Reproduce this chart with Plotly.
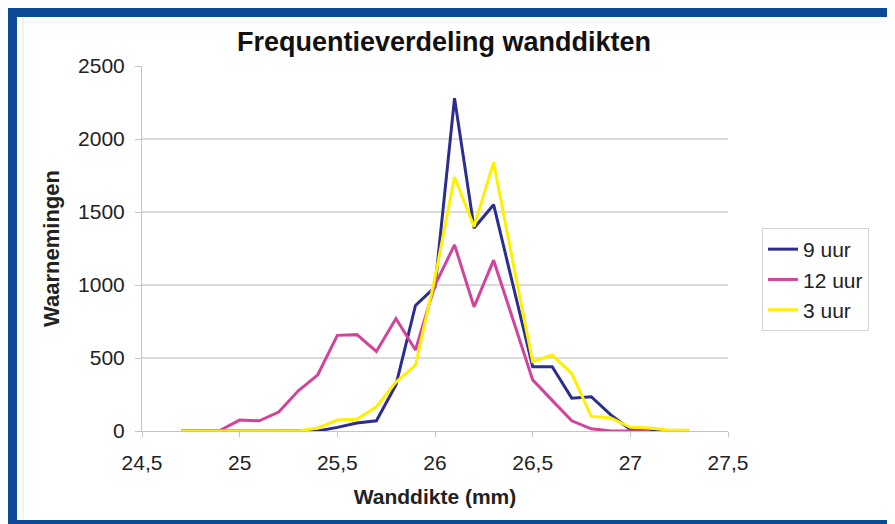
import plotly.graph_objects as go

# Wanddikte (mm) classes
wanddikte = [24.7, 24.8, 24.9, 25.0, 25.1, 25.2, 25.3, 25.4, 25.5, 25.6,
             25.7, 25.8, 25.9, 26.0, 26.1, 26.2, 26.3, 26.4, 26.5, 26.6,
             26.7, 26.8, 26.9, 27.0, 27.1, 27.2, 27.3]

# Waarnemingen per meetmoment
uur_9 = [0, 0, 0, 0, 0, 0, 0, 0, 25, 55,
         70, 315, 860, 985, 2280, 1390, 1550, 1000, 440, 440,
         225, 235, 110, 10, 0, 0, 0]
uur_12 = [0, 0, 5, 75, 70, 130, 275, 385, 655, 660,
          545, 770, 555, 1000, 1275, 850, 1170, 760, 350, 210,
          70, 15, 0, 0, 0, None, None]
uur_3 = [0, 0, 0, 0, 0, 0, 0, 20, 75, 80,
         165, 335, 450, 1050, 1740, 1400, 1840, 1150, 475, 520,
         395, 100, 90, 25, 20, 5, 5]

series_names = ["9 uur", "12 uur", "3 uur"]
series_colors = ["#2b2d8f", "#d2449c", "#fff000"]

# the page body adds an 8px margin, so the figure is shrunk and shifted by it
OFF = 8
W, H = 895 - OFF, 524 - OFF
# plot area in target pixels
L, R, T, B = 142 - OFF, 728 - OFF, 66 - OFF, 431 - OFF
FONT = "Arial, Liberation Sans, Helvetica, sans-serif"
FRAME = "#0b4a96"


def px(x):
    return (x - OFF - L) / (R - L)


def py(y):
    return (B - (y - OFF)) / (B - T)


def create_figure() -> go.Figure:
    fig = go.Figure()
    for name, values, color in zip(series_names, [uur_9, uur_12, uur_3], series_colors):
        fig.add_trace(go.Scatter(
            x=wanddikte, y=values, name=name, mode="lines",
            line=dict(color=color, width=3),
        ))

    # blue frame around the picture (open on the right)
    frame = [
        (8, 8, 895, 17),
        (8, 8, 17, 524),
        (8, 520, 895, 524),
    ]
    shapes = []
    for x0, y0, x1, y1 in frame:
        shapes.append(dict(
            type="rect", xref="paper", yref="paper",
            x0=px(x0), x1=px(x1), y0=py(y1), y1=py(y0),
            fillcolor=FRAME, line=dict(width=0), layer="above",
        ))
    shapes.append(dict(type="line", xref="paper", yref="paper",
                       x0=px(23), x1=px(23), y0=py(519), y1=py(18),
                       line=dict(color="#e4e4e4", width=1)))
    shapes.append(dict(type="line", xref="paper", yref="paper",
                       x0=px(23), x1=px(895), y0=py(22), y1=py(22),
                       line=dict(color="#eeeeee", width=1)))

    fig.update_layout(
        width=W, height=H,
        margin=dict(l=L, r=W - R, t=T, b=H - B),
        paper_bgcolor="white", plot_bgcolor="white",
        separators=",.",
        font=dict(family=FONT, size=21, color="#222222"),
        title=dict(
            text="<b>Frequentieverdeling wanddikten</b>",
            font=dict(size=27, color="#111111"),
            x=(444 - OFF) / W, xref="container", xanchor="center",
            y=1 - (42 - OFF) / H, yref="container", yanchor="middle",
        ),
        xaxis=dict(
            range=[24.5, 27.5], dtick=0.5, tick0=24.5,
            showgrid=False, zeroline=False,
            showline=True, linecolor="#c4c4c4", linewidth=1,
            ticks="outside", ticklen=5, tickcolor="#c4c4c4",
            tickfont=dict(size=21), ticklabelstandoff=8,
            title=dict(text="<b>Wanddikte (mm)</b>", font=dict(size=21), standoff=16),
        ),
        yaxis=dict(
            range=[0, 2500], dtick=500,
            showgrid=True, gridcolor="#dadada", gridwidth=1.5,
            zeroline=False,
            showline=True, linecolor="#c4c4c4", linewidth=1,
            ticks="outside", ticklen=6, tickcolor="#c4c4c4",
            tickfont=dict(size=21), ticklabelstandoff=6,
            title=dict(text="<b>Waarnemingen</b>", font=dict(size=22), standoff=12),
        ),
        legend=dict(
            x=px(762), y=py(228), xanchor="left", yanchor="top",
            bgcolor="white", bordercolor="#d4d4d4", borderwidth=1,
            font=dict(size=21, color="#222222"),
            itemwidth=30, tracegroupgap=0,
        ),
        shapes=shapes,
        showlegend=True,
    )
    return fig


fig = create_figure()
fig.write_html("out.html")
